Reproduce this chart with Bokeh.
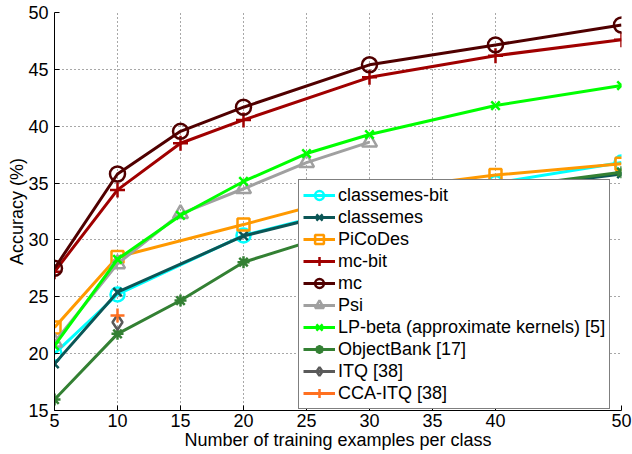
from bokeh.plotting import figure
from bokeh.models import FixedTicker, Range1d, Legend
from bokeh.embed import file_html
from bokeh.resources import INLINE

# ---- data ----
x_classemes_bit = [5, 10, 20, 30, 40, 50]
y_classemes_bit = [20.0, 25.2, 30.4, 33.2, 35.0, 36.8]

x_classemes = [5, 10, 20, 30, 40, 50]
y_classemes = [19.1, 25.4, 30.35, 33.1, 34.4, 35.8]

x_picodes = [5, 10, 20, 30, 40, 50]
y_picodes = [22.3, 28.5, 31.35, 34.3, 35.7, 36.7]

x_mc_bit = [5, 10, 15, 20, 30, 40, 50]
y_mc_bit = [27.2, 34.4, 38.5, 40.55, 44.3, 46.2, 47.6]

x_mc = [5, 10, 15, 20, 30, 40, 50]
y_mc = [27.5, 35.8, 39.55, 41.67, 45.4, 47.15, 48.9]

x_psi = [5, 10, 15, 20, 25, 30]
y_psi = [21.0, 27.9, 32.3, 34.5, 36.8, 38.6]

x_lpbeta = [5, 10, 15, 20, 25, 30, 40, 50]
y_lpbeta = [20.7, 28.3, 32.15, 35.14, 37.6, 39.27, 41.82, 43.58]

x_objectbank = [5, 10, 15, 20, 30, 40, 50]
y_objectbank = [15.96, 21.74, 24.67, 28.04, 31.5, 34.5, 35.96]

x_itq = [10]
y_itq = [22.76]

x_cca_itq = [10]
y_cca_itq = [23.35]

x_ticks = [5, 10, 15, 20, 25, 30, 35, 40, 50]
y_ticks = [15, 20, 25, 30, 35, 40, 45, 50]

FONT = "Liberation Sans"

p = figure(width=632, height=454, output_backend="svg", toolbar_location=None,
           x_range=Range1d(5, 50), y_range=Range1d(15, 50),
           min_border_left=54, min_border_right=11, min_border_top=12, min_border_bottom=44)
p.outline_line_color = None
p.background_fill_color = "white"

series = [
    ("classemes-bit", x_classemes_bit, y_classemes_bit, "#00FFFF", "circle", 14),
    ("classemes", x_classemes, y_classemes, "#0B5656", "x", 12),
    ("PiCoDes", x_picodes, y_picodes, "#FF9900", "square", 12),
    ("mc-bit", x_mc_bit, y_mc_bit, "#A00000", "cross", 15),
    ("mc", x_mc, y_mc, "#500000", "circle", 15),
    ("Psi", x_psi, y_psi, "#A0A0A0", "triangle", 15),
    ("LP-beta (approximate kernels) [5]", x_lpbeta, y_lpbeta, "#00FF00", "x", 12),
    ("ObjectBank [17]", x_objectbank, y_objectbank, "#338033", "asterisk", 12),
    ("ITQ [38]", x_itq, y_itq, "#5A5A5A", "diamond", 15),
    ("CCA-ITQ [38]", x_cca_itq, y_cca_itq, "#FF7020", "cross", 14),
]

items = []
for name, xs, ys, col, mk, sz in series:
    r1 = p.line(xs, ys, line_color=col, line_width=3)
    r2 = p.scatter(xs, ys, marker=mk, size=sz, line_color=col, fill_color=None,
                   line_width=2.5)
    items.append((name, [r1, r2]))

legend = Legend(items=items, location=(244, 1))
legend.label_text_font = FONT
legend.label_text_font_size = "18px"
legend.label_text_color = "black"
legend.glyph_width = 32
legend.glyph_height = 22
legend.label_height = 22
legend.label_standoff = 3
legend.spacing = 0
legend.padding = 4
legend.margin = 0
legend.border_line_color = "black"
legend.border_line_width = 1
legend.background_fill_color = "white"
legend.background_fill_alpha = 1.0
p.add_layout(legend, "center")

for ax in (p.xaxis[0], p.yaxis[0]):
    ax.axis_line_color = "black"
    ax.axis_line_width = 1
    ax.major_tick_in = 5
    ax.major_tick_out = 0
    ax.minor_tick_in = 0
    ax.minor_tick_out = 0
    ax.major_tick_line_color = "black"
    ax.major_label_text_font = FONT
    ax.major_label_text_font_size = "18px"
    ax.major_label_text_color = "black"
    ax.axis_label_text_font = FONT
    ax.axis_label_text_font_size = "18px"
    ax.axis_label_text_font_style = "normal"
    ax.axis_label_text_color = "black"

p.xaxis[0].ticker = FixedTicker(ticks=x_ticks)
p.yaxis[0].ticker = FixedTicker(ticks=y_ticks)
p.xaxis[0].axis_label = "Number of training examples per class"
p.yaxis[0].axis_label = "Accuracy (%)"
p.xaxis[0].major_label_standoff = 3
p.yaxis[0].major_label_standoff = 6
p.xaxis[0].axis_label_standoff = 0
p.yaxis[0].axis_label_standoff = -2

for g in (p.xgrid[0], p.ygrid[0]):
    g.grid_line_color = "#505050"
    g.grid_line_dash = "1 3"
    g.grid_line_width = 1
p.xgrid[0].ticker = FixedTicker(ticks=x_ticks)
p.ygrid[0].ticker = FixedTicker(ticks=y_ticks)

open("out.html", "w").write(file_html(p, INLINE))
